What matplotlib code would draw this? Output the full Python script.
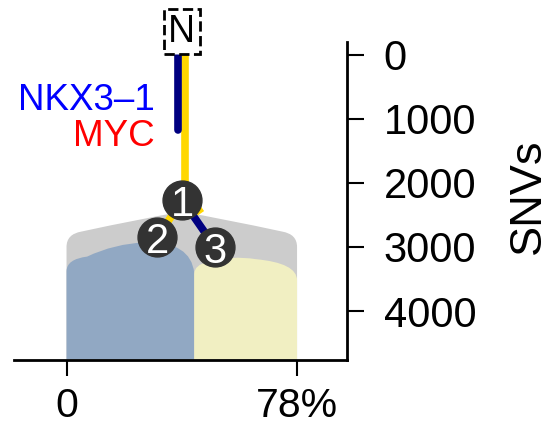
import matplotlib
matplotlib.use("Agg")
import matplotlib.pyplot as plt
from matplotlib.path import Path
from matplotlib.patches import PathPatch

plt.rcParams['font.family'] = ['Liberation Sans', 'DejaVu Sans']

# ---------------- data ----------------
y_ticks = [0, 1000, 2000, 3000, 4000]
x_ticks = [0, 0.78]
x_ticklabels = ['0', '78%']
y_label = 'SNVs'

# clone shapes: outline control points (cell fraction, SNV depth)
gray_outline = [(0, 3000), (0, 2800), (0.05, 2760), (0.25, 2560), (0.39, 2450),
                (0.53, 2560), (0.73, 2760), (0.78, 2800), (0.78, 3000)]
blue_outline = [(0, 3380), (0, 3190), (0.07, 3150), (0.16, 2950), (0.27, 2925),
                (0.42, 2920), (0.432, 3400)]
yellow_outline = [(0.432, 3420), (0.432, 3280), (0.48, 3230), (0.56, 3130), (0.64, 3190),
                  (0.78, 3250), (0.78, 3520)]
shape_colors = ['#cccccc', '#91a8c3', '#f1efc2']

# tree
root_x, root_y = 0.39, -360
node_labels = ['1', '2', '3']
node_x = [0.392, 0.307, 0.503]
node_y = [2269, 2848, 3005]
trunk_offset = 0.014
nkx_end = 1174
gene_labels = ['NKX3\u20131', 'MYC']
gene_colors = ['#0000ff', '#ff0000']
gene_y = [715, 1270]
gene_x = 0.30
navy = '#000080'
gold = '#ffd700'

# ---------------- figure ----------------
fig = plt.figure(figsize=(5.53, 4.26), dpi=100)
ax = fig.add_axes([0.0253, 0.156, 0.6022, 0.746])
y_bottom = 4757
ax.set_xlim(-0.1777, 0.949)
ax.set_ylim(y_bottom, -203)


def shape_path(outline):
    x0 = outline[0][0]
    x1 = outline[-1][0]
    verts = [(x0, y_bottom), outline[0]]
    codes = [Path.MOVETO, Path.LINETO]
    for p in outline[1:-1]:
        verts.append(p)
        codes.append(Path.CURVE3)
    verts.append(outline[-1])
    codes.append(Path.CURVE3)
    verts += [(x1, y_bottom), (x0, y_bottom)]
    codes += [Path.LINETO, Path.CLOSEPOLY]
    return Path(verts, codes)


for outline, col in zip([gray_outline, blue_outline, yellow_outline], shape_colors):
    ax.add_patch(PathPatch(shape_path(outline), facecolor=col, edgecolor='none', zorder=1))

lw = 5.5
# trunk
ax.plot([root_x - trunk_offset, root_x - trunk_offset], [0, nkx_end], color=navy, lw=lw,
        solid_capstyle='round', zorder=3)
ax.plot([root_x + trunk_offset * 0.8, root_x + trunk_offset * 0.8], [0, node_y[0]], color=gold, lw=lw,
        solid_capstyle='butt', zorder=2)
# branches
ax.plot([node_x[0], node_x[1]], [node_y[0], node_y[1]], color=gold, lw=lw, zorder=2)
stub_x = node_x[0] + 0.32 * (node_x[2] - node_x[0])
stub_y = node_y[0] + 0.32 * (node_y[2] - node_y[0])
ax.plot([node_x[0] + 0.02, stub_x + 0.02], [node_y[0] - 80, stub_y - 80], color=gold, lw=lw, zorder=2)
ax.plot([node_x[0], node_x[2]], [node_y[0], node_y[2]], color=navy, lw=lw, zorder=3)

for lab, xx, yy in zip(node_labels, node_x, node_y):
    ax.plot(xx, yy, 'o', ms=28, color='#333333', zorder=4)
    ax.text(xx, yy, lab, color='white', fontsize=30, ha='center', va='center_baseline', zorder=5)

ax.text(root_x, root_y, 'N', fontsize=27, ha='center', va='center', zorder=6,
        bbox=dict(boxstyle='square,pad=0.12', fc='white', ec='black', ls='--', lw=2))

for lab, col, yy in zip(gene_labels, gene_colors, gene_y):
    ax.text(gene_x, yy, lab, color=col, fontsize=26.5, ha='right', va='center')

# axes styling
for s in ['left', 'top']:
    ax.spines[s].set_visible(False)
for s in ['right', 'bottom']:
    ax.spines[s].set_linewidth(2)
ax.yaxis.tick_right()
ax.yaxis.set_label_position('right')
ax.set_yticks(y_ticks)
ax.set_yticklabels([str(v) for v in y_ticks])
ax.set_xticks(x_ticks)
ax.set_xticklabels(x_ticklabels)
ax.tick_params(axis='both', labelsize=30, width=1.5, direction='out')
ax.tick_params(axis='y', pad=14, length=12.5)
ax.tick_params(axis='x', pad=8, length=11.5, labelsize=29.5)
ax.set_ylabel(y_label, fontsize=32.5, rotation=90)
ax.yaxis.set_label_coords(1.484, 0.514)

fig.savefig('out.png', dpi=100)
